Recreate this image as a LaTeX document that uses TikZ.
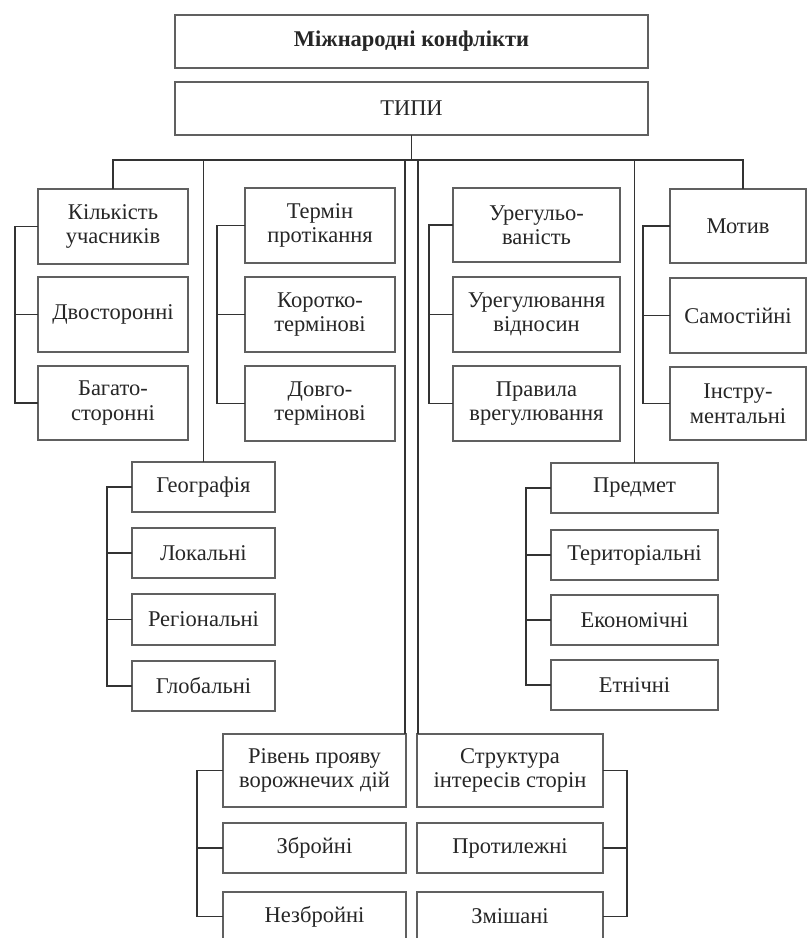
\documentclass[tikz,border=0pt]{standalone}
\usepackage{fontspec}
\setmainfont{Liberation Serif}
\begin{document}
\begin{tikzpicture}[x=1pt,y=-1pt,
  box/.style={draw=gray!75!black, line width=2pt, fill=white, inner sep=0pt, outer sep=0pt,
    align=center, text=black!85, font=\fontsize{22.5}{24.5}\selectfont},
  conn/.style={draw=black!80, line width=1.6pt}]
\path[use as bounding box] (0,0) rectangle (808,938);
\begin{scope}
\clip (0,0) rectangle (808,938);
% top
\node[box, minimum width=473pt, minimum height=53pt, font=\fontsize{22.5}{24.5}\selectfont\bfseries] (title) at (411.5,41.5) {Міжнародні конфлікти};
\node[box, minimum width=473pt, minimum height=53pt] (types) at (411.5,108.5) {ТИПИ};
% column 1
\node[box, minimum width=150pt, minimum height=75pt] (k1) at (113,226.5) {Кількість\\учасників};
\node[box, minimum width=150pt, minimum height=75pt] (k2) at (113,314.5) {Двосторонні};
\node[box, minimum width=150pt, minimum height=74pt] (k3) at (113,403) {Багато-\\сторонні};
% column 2
\node[box, minimum width=150pt, minimum height=75pt] (t1) at (320,225.5) {Термін\\протікання};
\node[box, minimum width=150pt, minimum height=75pt] (t2) at (320,314.5) {Коротко-\\термінові};
\node[box, minimum width=150pt, minimum height=75pt] (t3) at (320,403.5) {Довго-\\термінові};
% column 3
\node[box, minimum width=167pt, minimum height=74pt] (u1) at (536.5,225) {Урегульо-\\ваність};
\node[box, minimum width=167pt, minimum height=75pt] (u2) at (536.5,314.5) {Урегулювання\\відносин};
\node[box, minimum width=167pt, minimum height=75pt] (u3) at (536.5,403.5) {Правила\\врегулювання};
% column 4
\node[box, minimum width=136pt, minimum height=74pt] (m1) at (738,226) {Мотив};
\node[box, minimum width=136pt, minimum height=75pt] (m2) at (738,315.5) {Самостійні};
\node[box, minimum width=136pt, minimum height=73pt] (m3) at (738,403.5) {Інстру-\\ментальні};
% geography
\node[box, minimum width=143pt, minimum height=50pt] (g1) at (203.5,487) {Географія};
\node[box, minimum width=143pt, minimum height=50pt] (g2) at (203.5,553) {Локальні};
\node[box, minimum width=143pt, minimum height=51pt] (g3) at (203.5,619.5) {Регіональні};
\node[box, minimum width=143pt, minimum height=50pt] (g4) at (203.5,686) {Глобальні};
% subject
\node[box, minimum width=167pt, minimum height=50pt] (p1) at (634.5,488) {Предмет};
\node[box, minimum width=167pt, minimum height=50pt] (p2) at (634.5,555) {Територіальні};
\node[box, minimum width=167pt, minimum height=50pt] (p3) at (634.5,620) {Економічні};
\node[box, minimum width=167pt, minimum height=50pt] (p4) at (634.5,685) {Етнічні};
% bottom left
\node[box, minimum width=183pt, minimum height=73pt] (r1) at (314.5,770.5) {Рівень прояву\\ворожнечих дій};
\node[box, minimum width=183pt, minimum height=50pt] (r2) at (314.5,848) {Збройні};
\node[box, minimum width=183pt, minimum height=49pt] (r3) at (314.5,916.5) {Незбройні};
% bottom right
\node[box, minimum width=186pt, minimum height=73pt] (s1) at (510,770.5) {Структура\\інтересів сторін};
\node[box, minimum width=186pt, minimum height=50pt] (s2) at (510,848) {Протилежні};
\node[box, minimum width=186pt, minimum height=49pt] (s3) at (510,916.5) {Змішані};
% bus
\coordinate (busR) at (743,160);
\coordinate (bl) at (405,160);
\coordinate (br) at (418,160);
\draw[conn] (types.south) -- (types.south |- busR);
\draw[conn] (k1.north) |- (busR) -- (busR |- m1.north);
\draw[conn] (g1.north) -- (g1.north |- busR);
\draw[conn] (p1.north) -- (p1.north |- busR);
\draw[conn] (bl) -- (bl |- r1.north);
\draw[conn] (br) -- (br |- s1.north);
% brackets
\draw[conn] (k1.west) -- ++(-23,0) |- (k3.west) (k2.west) -- ++(-23,0);
\draw[conn] (t1.west) -- ++(-28,0) |- (t3.west) (t2.west) -- ++(-28,0);
\draw[conn] (u1.west) -- ++(-24,0) |- (u3.west) (u2.west) -- ++(-24,0);
\draw[conn] (m1.west) -- ++(-27,0) |- (m3.west) (m2.west) -- ++(-27,0);
\draw[conn] (g1.west) -- ++(-25,0) |- (g4.west) (g2.west) -- ++(-25,0) (g3.west) -- ++(-25,0);
\draw[conn] (p1.west) -- ++(-25,0) |- (p4.west) (p2.west) -- ++(-25,0) (p3.west) -- ++(-25,0);
\draw[conn] (r1.west) -- ++(-26,0) |- (r3.west) (r2.west) -- ++(-26,0);
\draw[conn] (s1.east) -- ++(24,0) |- (s3.east) (s2.east) -- ++(24,0);
\end{scope}
\end{tikzpicture}
\end{document}
